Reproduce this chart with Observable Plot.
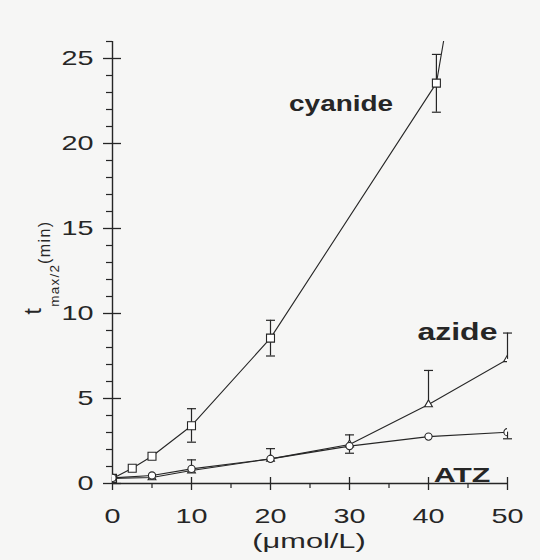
<!DOCTYPE html>
<html><head><meta charset="utf-8">
<script src="https://cdn.jsdelivr.net/npm/d3@7"></script>
<script src="https://cdn.jsdelivr.net/npm/@observablehq/plot@0.6"></script>
<style>
html,body{margin:0;padding:0;background:#f6f6f5;}
#chart{width:540px;height:560px;overflow:hidden;}
</style></head><body><div id="chart"></div>
<script>
// ---- data ----
const cyanideX  = [0, 2.5, 5, 10, 20, 41, 50];
const cyanideY  = [0.3, 0.9, 1.6, 3.4, 8.55, 23.55, 48];
const cyanideLo = [null, null, null, 2.43, 7.5, 21.84, null];
const cyanideHi = [null, null, null, 4.4, 9.6, 25.24, null];

const azideX  = [0, 5, 10, 20, 30, 40, 50];
const azideY  = [0.3, 0.35, 0.76, 1.45, 2.29, 4.65, 7.3];
const azideLo = [null, null, null, null, 1.78, null, null];
const azideHi = [null, null, 1.39, 2.05, 2.86, 6.65, 8.85];

const atzX  = [0, 5, 10, 20, 30, 40, 50];
const atzY  = [0.33, 0.47, 0.86, 1.45, 2.2, 2.76, 3.02];
const atzLo = [null, null, null, null, null, null, 2.63];
const atzHi = [null, null, null, null, null, null, null];

const seriesNames   = ["cyanide", "azide", "ATZ"];
const seriesSymbols = ["square", "triangle", "circle"];
const seriesRadius  = [4.5, 2.9, 3.6];

// annotation anchors (data units)
const labelX = [22.35, 38.6, 40.65];
const labelY = [22.35, 8.86, 0.47];
const labelSize = [22, 23, 20.5];
const labelStretch = [1.27, 1.39, 1.48];

const xTicks = [0, 10, 20, 30, 40, 50];
const xMinorTicks = [5, 15, 25, 35, 45];
const yTicks = [0, 5, 10, 15, 20, 25];
const yMinorTicks = [1,2,3,4,6,7,8,9,11,12,13,14,16,17,18,19,21,22,23,24,26];
const xLabel = "(μmol/L)";
const yLabel = "tmax/2(min)";

// ---- build tables ----
const seriesData = [
  [cyanideX, cyanideY, cyanideLo, cyanideHi],
  [azideX, azideY, azideLo, azideHi],
  [atzX, atzY, atzLo, atzHi]
];
const points = [];
seriesData.forEach(([X, Y, L, H], s) => {
  X.forEach((x, i) => points.push({series: seriesNames[s], s, x, y: Y[i], lo: L[i], hi: H[i]}));
});
const errRows = points.filter(d => d.lo != null || d.hi != null)
  .map(d => ({x: d.x, lo: d.lo != null ? d.lo : d.y, hi: d.hi != null ? d.hi : d.y}));
const caps = [];
points.filter(d => d.lo != null).forEach(d => caps.push({x: d.x, y: d.lo}));
points.filter(d => d.hi != null).forEach(d => caps.push({x: d.x, y: d.hi}));

const capSymbol = {
  draw(ctx, size) {
    const h = Math.sqrt(size / Math.PI);
    ctx.moveTo(-h, 0);
    ctx.lineTo(h, 0);
  }
};

const ink = "#262626";
const labels = seriesNames.map((n, i) => ({name: n, x: labelX[i], y: labelY[i], fs: labelSize[i], k: labelStretch[i]}));

const chart = Plot.plot({
  width: 540,
  height: 560,
  marginLeft: 112,
  marginRight: 33,
  marginTop: 41,
  marginBottom: 77,
  style: {background: "transparent", fontFamily: "'Liberation Sans', Arial, sans-serif", color: ink},
  x: {domain: [0, 50], label: null},
  y: {domain: [0, 26], label: null},
  marks: [
    // axis lines
    Plot.ruleY([0], {stroke: ink, strokeWidth: 1.4}),
    Plot.ruleX([0], {stroke: ink, strokeWidth: 1.4}),
    // x ticks
    Plot.axisX(xTicks, {tickSize: 13, dy: -6, fill: "none", stroke: ink, strokeWidth: 1.3, label: null}),
    Plot.axisX(xMinorTicks, {tickSize: 5, fill: "none", stroke: ink, strokeWidth: 1.2, label: null}),
    Plot.axisX(xTicks, {tickSize: 0, tickPadding: 25, fontSize: 21, label: null, className: "xtl"}),
    // y ticks
    Plot.axisY(yTicks, {tickSize: 18, dx: 9, fill: "none", stroke: ink, strokeWidth: 1.3, label: null}),
    Plot.axisY(yMinorTicks, {tickSize: 6, fill: "none", stroke: ink, strokeWidth: 1.2, label: null}),
    Plot.axisY(yTicks, {tickSize: 0, tickPadding: 19, fontSize: 21, label: null, className: "ytl"}),
    // series lines
    Plot.line(points, {x: "x", y: "y", z: "series", stroke: ink, strokeWidth: 1.1, clip: true}),
    // error bars
    Plot.ruleX(errRows, {x: "x", y1: "lo", y2: "hi", stroke: ink, strokeWidth: 1.2}),
    Plot.dot(caps, {x: "x", y: "y", symbol: capSymbol, r: 4.5, stroke: ink, strokeWidth: 1.2, fill: "none"}),
    // markers
    ...seriesNames.map((n, s) => Plot.dot(points.filter(d => d.s === s), {
      x: "x", y: "y", symbol: seriesSymbols[s], r: seriesRadius[s],
      fill: "white", stroke: ink, strokeWidth: 1.1, clip: true
    })),
    // series labels
    ...labels.map(l => Plot.text([l], {x: "x", y: "y", text: "name", fontSize: l.fs, fontWeight: "bold",
      textAnchor: "start", fill: ink, className: "lab-" + l.name})),
    // axis labels
    Plot.text([xLabel], {frameAnchor: "bottom", dy: 64, dx: -1, fontSize: 20.5, fill: ink, className: "xlab"}),
    Plot.text([yLabel], {frameAnchor: "left", rotate: -90, dx: -68, dy: 5, fontSize: 16, fill: ink, className: "ylab"})
  ]
});
document.getElementById("chart").appendChild(chart);

// widen glyphs to match the broad lettering of the original
function stretch(sel, k) {
  chart.querySelectorAll(sel + " text").forEach(t => {
    const len = t.getComputedTextLength();
    t.setAttribute("textLength", (len * k).toFixed(1));
    t.setAttribute("lengthAdjust", "spacingAndGlyphs");
  });
}
stretch(".xtl", 1.37);
stretch(".ytl", 1.37);
stretch(".xlab", 1.5);
labels.forEach(l => stretch(".lab-" + l.name, l.k));

// typeset subscript in the y label
const yt = chart.querySelector(".ylab text");
if (yt) {
  yt.removeAttribute("dy");
  yt.setAttribute("text-anchor", "middle");
  yt.textContent = "";
  const ns = "http://www.w3.org/2000/svg";
  const parts = [["t", 23, -9, 1.5], ["max/2", 13.5, 9, 1.2], ["(min)", 16, 0, 1.4]];
  let prev = 0;
  parts.forEach(([txt, fs, off, ls]) => {
    const ts = document.createElementNS(ns, "tspan");
    ts.textContent = txt;
    ts.setAttribute("font-size", fs);
    ts.setAttribute("dy", off - prev);
    ts.style.letterSpacing = ls + "px";
    prev = off;
    yt.appendChild(ts);
  });
}
</script></body></html>
